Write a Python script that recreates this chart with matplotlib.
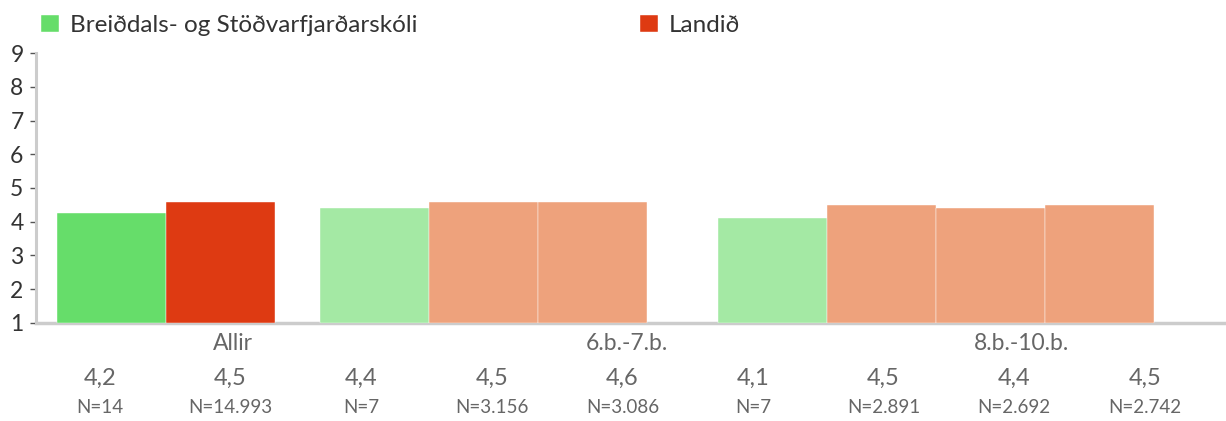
import matplotlib.pyplot as plt
from matplotlib.transforms import blended_transform_factory
import numpy as np

plt.rcParams['font.family'] = ['Lato', 'DejaVu Sans']

# data
groups = ['Allir', '6.b.-7.b.', '8.b.-10.b.']
school_name = 'Breiðdals- og Stöðvarfjarðarskóli'
nation_name = 'Landið'
school_bars = [4.26, 4.40, 4.10]
nation_bars = [[4.57], [4.57, 4.57], [4.49, 4.41, 4.49]]
value_labels = ['4,2', '4,5', '4,4', '4,5', '4,6', '4,1', '4,5', '4,4', '4,5']
n_labels = ['N=14', 'N=14.993', 'N=7', 'N=3.156', 'N=3.086',
            'N=7', 'N=2.891', 'N=2.692', 'N=2.742']

# colours: first group strong, the rest faded
school_colors = ['#66dd6a', '#a4e9a4', '#a4e9a4']
nation_colors = ['#de3a12', '#eea27c', '#eea27c']

# layout (category units, group centres at 0, 1, 2)
bar_w = 0.276
group_start = [-0.445, -0.778, -0.769]
label_x0, label_step = -0.336, 0.331

fig = plt.figure(figsize=(12.26, 4.21), dpi=100)
ax = fig.add_axes([36 / 1226, 1 - 322.7 / 421, 1 - 36 / 1226, (322.7 - 53.3) / 421])

handles = []
for i in range(len(groups)):
    x = i + group_start[i]
    b = ax.bar(x, school_bars[i] - 1, bottom=1, width=bar_w, align='edge',
               color=school_colors[i], edgecolor='#ffffff', linewidth=0.3, zorder=3)
    if i == 0:
        handles.append(b)
    for j, v in enumerate(nation_bars[i]):
        b = ax.bar(x + bar_w * (j + 1), v - 1, bottom=1, width=bar_w, align='edge',
                   color=nation_colors[i], edgecolor='#ffffff', linewidth=0.3, zorder=3)
        if i == 0 and j == 0:
            handles.append(b)

ax.set_xlim(-0.498, 2.518)
ax.set_ylim(1, 9)
ax.set_yticks(range(1, 10))
ax.set_xticks([])
ax.tick_params(axis='y', length=4, width=1, color='#555555', labelsize=16.5,
               labelcolor='#333333', pad=5)
for s in ['top', 'right']:
    ax.spines[s].set_visible(False)
ax.spines['left'].set_color('#cccccc')
ax.spines['left'].set_linewidth(2.2)
ax.spines['bottom'].set_color('#cccccc')
ax.spines['bottom'].set_linewidth(2.5)
ax.spines['bottom'].set_zorder(1)

# texts under the axis
trans = blended_transform_factory(ax.transData, fig.transFigure)
for i, g in enumerate(groups):
    ax.text(i, 1 - 350 / 421, g, transform=trans, ha='center', va='baseline',
            fontsize=16.5, color='#666666')
for k in range(len(value_labels)):
    xk = label_x0 + label_step * k
    ax.text(xk, 1 - 385 / 421, value_labels[k], transform=trans, ha='center',
            va='baseline', fontsize=17, color='#666666')
    ax.text(xk, 1 - 413 / 421, n_labels[k], transform=trans, ha='center',
            va='baseline', fontsize=13.5, color='#666666')

fig.legend(handles, [school_name, nation_name], loc='upper left',
           bbox_to_anchor=(31 / 1226, 1 - 5 / 421), ncol=2, frameon=False,
           fontsize=17.5, labelcolor='#333333', handlelength=0.74, handleheight=0.74,
           handletextpad=0.45, columnspacing=9.15, borderaxespad=0)

fig.savefig('out.png', dpi=100)
